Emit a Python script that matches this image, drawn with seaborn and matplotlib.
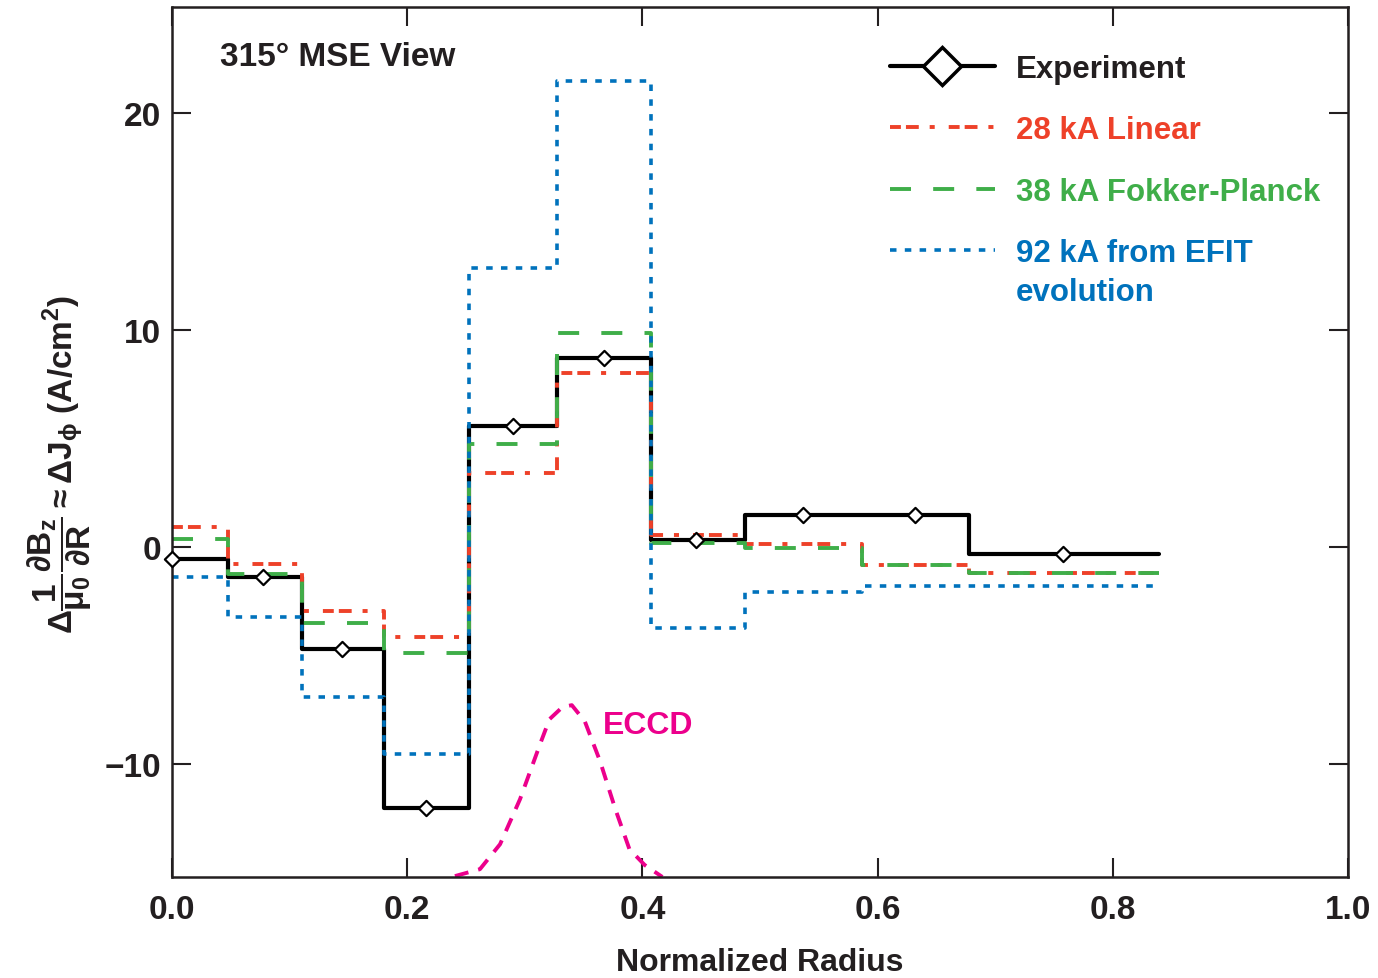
import matplotlib
matplotlib.use('Agg')
import matplotlib.pyplot as plt
from matplotlib.lines import Line2D
import seaborn as sns
import pandas as pd

# bin edges of the MSE channels (normalized radius)
edges = [0.0, 0.0476, 0.1105, 0.180, 0.2526, 0.327, 0.407, 0.487, 0.587, 0.678, 0.839]

# step values per bin (A/cm^2)
exp_steps = [-0.55, -1.38, -4.7, -12.0, 5.58, 8.71, 0.32, 1.47, 1.47, -0.32]
lin_steps = [0.92, -0.78, -2.95, -4.15, 3.41, 8.02, 0.55, 0.14, -0.83, -1.2]
fp_steps = [0.37, -1.24, -3.5, -4.88, 4.75, 9.86, 0.18, -0.05, -0.83, -1.2]
efit_steps = [-1.38, -3.23, -6.9, -9.54, 12.86, 21.47, -3.73, -2.07, -1.8, -1.8]

# experiment data points
exp_x = [0.0, 0.077, 0.145, 0.216, 0.29, 0.367, 0.446, 0.537, 0.632, 0.758]
exp_y = [-0.55, -1.38, -4.7, -12.0, 5.58, 8.71, 0.32, 1.47, 1.47, -0.32]

# ECCD deposition profile (arbitrary units, sits on the bottom axis)
eccd_x = [0.2406, 0.2619, 0.279, 0.296, 0.313, 0.321, 0.332, 0.340, 0.351, 0.364, 0.377, 0.389, 0.402, 0.417]
eccd_y = [-15.16, -14.84, -13.69, -11.61, -9.08, -7.93, -7.37, -7.28, -8.02, -9.86, -12.07, -13.92, -14.65, -15.2]

INK = '#231F20'
RED = '#EE4129'
GREEN = '#3FAE49'
BLUE = '#0072BC'
MAGENTA = '#EC008C'

LS_LIN = (0, (2.8, 1.3, 3.3, 2.8, 1.3, 3.6))
LS_FP = (0, (5.4, 5.7))
LS_EFIT = (0, (1.8, 2.3))
LS_ECCD = (0, (3.6, 2.6))

sns.set_style("ticks")
plt.rcParams['font.family'] = ['Liberation Sans', 'DejaVu Sans']
plt.rcParams['font.weight'] = 'bold'
plt.rcParams['mathtext.fontset'] = 'custom'
plt.rcParams['mathtext.rm'] = 'Liberation Sans:bold'
plt.rcParams['mathtext.bf'] = 'Liberation Sans:bold'
plt.rcParams['mathtext.it'] = 'Liberation Sans:bold'
plt.rcParams['mathtext.sf'] = 'Liberation Sans:bold'


def steps_df(vals):
    return pd.DataFrame({"r": edges, "v": list(vals) + [vals[-1]]})


fig = plt.figure(figsize=(13.78, 9.79), dpi=100)
ax = fig.add_axes([0.1248, 0.1032, 0.8534, 0.8886])

lw = 2.8
sns.lineplot(data=steps_df(exp_steps), x="r", y="v", ax=ax, color='black', lw=3.0,
             drawstyle='steps-post', estimator=None, sort=False)
sns.lineplot(data=steps_df(lin_steps), x="r", y="v", ax=ax, color=RED, lw=lw,
             drawstyle='steps-post', estimator=None, sort=False, linestyle=LS_LIN)
sns.lineplot(data=steps_df(fp_steps), x="r", y="v", ax=ax, color=GREEN, lw=lw,
             drawstyle='steps-post', estimator=None, sort=False, linestyle=LS_FP)
sns.lineplot(data=steps_df(efit_steps), x="r", y="v", ax=ax, color=BLUE, lw=2.6,
             drawstyle='steps-post', estimator=None, sort=False, linestyle=LS_EFIT)
sns.lineplot(x=eccd_x, y=eccd_y, ax=ax, color=MAGENTA, lw=lw,
             estimator=None, sort=False, linestyle=LS_ECCD)
sns.scatterplot(x=exp_x, y=exp_y, ax=ax, marker='D', s=60, facecolor='white',
                edgecolor='black', linewidth=1.6, zorder=5, clip_on=False)

ax.set_xlim(0, 1.0)
ax.set_ylim(-15.2, 24.9)
ax.set_xticks([0.0, 0.2, 0.4, 0.6, 0.8, 1.0])
ax.set_xticklabels(['0.0', '0.2', '0.4', '0.6', '0.8', '1.0'])
ax.set_yticks([-10, 0, 10, 20])
ax.set_yticklabels(['\u221210', '0', '10', '20'])
ax.tick_params(direction='in', length=14, width=1.5, top=True, right=True,
               labelsize=24, colors=INK)
ax.tick_params(axis='x', pad=12)
ax.tick_params(axis='y', pad=8)
for sp in ax.spines.values():
    sp.set_linewidth(1.8)
    sp.set_color(INK)

ax.set_xlabel('Normalized Radius', fontsize=23, fontweight='bold', labelpad=16, color=INK)
ax.set_ylabel(r'$\Delta\dfrac{1}{\mu_0}\dfrac{\partial \mathbf{B_z}}{\partial \mathbf{R}}\approx\Delta \mathbf{J}_\phi$ (A/cm$^2$)',
              fontsize=24, fontweight='bold', color=INK)
ax.yaxis.set_label_coords(-0.066, 0.475)

ax.text(0.041, 0.943, '315\u00b0 MSE View', transform=ax.transAxes, fontsize=24,
        fontweight='bold', ha='left', va='center', color=INK)
ax.text(0.366, 0.175, 'ECCD', transform=ax.transAxes, fontsize=23,
        fontweight='bold', ha='left', va='center', color=MAGENTA)

handles = [
    Line2D([], [], color='black', lw=3.0, marker='D', markersize=19,
           markerfacecolor='white', markeredgecolor='black', markeredgewidth=2.5),
    Line2D([], [], color=RED, lw=lw, linestyle=LS_LIN),
    Line2D([], [], color=GREEN, lw=lw, linestyle=LS_FP),
    Line2D([], [], color=BLUE, lw=2.6, linestyle=LS_EFIT),
]
labels = ['Experiment', '28 kA Linear', '38 kA Fokker-Planck', '92 kA from EFIT']
leg = ax.legend(handles, labels, loc='upper left', bbox_to_anchor=(0.6105, 0.946),
                frameon=False, fontsize=22.5, handlelength=3.36, handletextpad=0.67,
                labelspacing=1.0, borderpad=0, borderaxespad=0, numpoints=1)
for txt, c in zip(leg.get_texts(), [INK, RED, GREEN, BLUE]):
    txt.set_color(c)
    txt.set_fontweight('bold')

# second line of the last legend label, placed under it
fig.canvas.draw()
bb = leg.get_texts()[-1].get_window_extent().transformed(ax.transAxes.inverted())
ax.text(bb.x0, bb.y0 - 0.011, 'evolution', transform=ax.transAxes, ha='left', va='top',
        fontsize=22.5, fontweight='bold', color=BLUE)

fig.savefig('out.png', dpi=100)
